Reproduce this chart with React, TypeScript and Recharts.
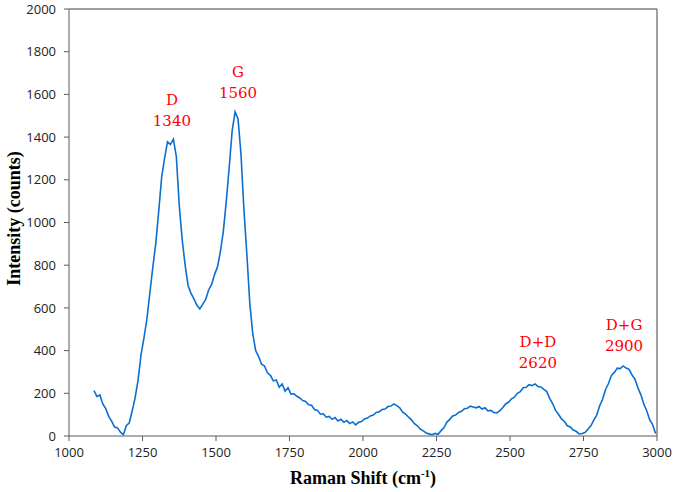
import React from "react"
import { LineChart, Line, XAxis, YAxis, ReferenceLine, ReferenceDot } from "recharts"

// Raman shift (cm-1) of each sampled point
const shift = [
  1085, 1095, 1105, 1115, 1125, 1135, 1145, 1155, 1165, 1175, 1185, 1195, 1205, 1215, 1225, 1235,
  1245, 1255, 1265, 1275, 1285, 1295, 1305, 1315, 1325, 1335, 1345, 1355, 1365, 1375, 1385, 1395,
  1405, 1415, 1425, 1435, 1445, 1455, 1465, 1475, 1485, 1495, 1505, 1515, 1525, 1535, 1545, 1555,
  1565, 1575, 1585, 1595, 1605, 1615, 1625, 1635, 1645, 1655, 1665, 1675, 1685, 1695, 1705, 1715,
  1725, 1735, 1745, 1755, 1765, 1775, 1785, 1795, 1805, 1815, 1825, 1835, 1845, 1855, 1865, 1875,
  1885, 1895, 1905, 1915, 1925, 1935, 1945, 1955, 1965, 1975, 1985, 1995, 2005, 2015, 2025, 2035,
  2045, 2055, 2065, 2075, 2085, 2095, 2105, 2115, 2125, 2135, 2145, 2155, 2165, 2175, 2185, 2195,
  2205, 2215, 2225, 2235, 2245, 2255, 2265, 2275, 2285, 2295, 2305, 2315, 2325, 2335, 2345, 2355,
  2365, 2375, 2385, 2395, 2405, 2415, 2425, 2435, 2445, 2455, 2465, 2475, 2485, 2495, 2505, 2515,
  2525, 2535, 2545, 2555, 2565, 2575, 2585, 2595, 2605, 2615, 2625, 2635, 2645, 2655, 2665, 2675,
  2685, 2695, 2705, 2715, 2725, 2735, 2745, 2755, 2765, 2775, 2785, 2795, 2805, 2815, 2825, 2835,
  2845, 2855, 2865, 2875, 2885, 2895, 2905, 2915, 2925, 2935, 2945, 2955, 2965, 2975, 2985, 2995,
]

// measured counts at each shift
const intensity = [
  212, 185, 192, 150, 128, 92, 70, 42, 38, 18, 6, 48, 62, 118, 180, 262,
  380, 460, 548, 670, 790, 900, 1050, 1210, 1300, 1378, 1365, 1390, 1310, 1080, 920, 800,
  705, 668, 642, 612, 595, 618, 640, 684, 710, 756, 792, 864, 960, 1100, 1260, 1430,
  1518, 1485, 1320, 1060, 850, 620, 480, 400, 372, 336, 328, 296, 284, 258, 262, 228,
  244, 210, 226, 196, 198, 186, 178, 166, 162, 146, 144, 124, 120, 102, 104, 88,
  92, 78, 86, 70, 78, 64, 72, 58, 66, 52, 64, 68, 80, 84, 94, 98,
  110, 114, 124, 126, 138, 140, 150, 142, 132, 112, 102, 88, 76, 58, 48, 32,
  24, 14, 10, 6, 12, 8, 24, 38, 64, 78, 94, 98, 110, 116, 128, 130,
  140, 136, 132, 138, 126, 132, 118, 120, 110, 108, 118, 132, 150, 158, 174, 182,
  200, 208, 226, 228, 240, 236, 244, 232, 230, 218, 208, 176, 152, 120, 102, 80,
  68, 48, 42, 28, 22, 10, 12, 16, 32, 48, 74, 98, 142, 172, 218, 246,
  284, 298, 318, 316, 328, 318, 312, 286, 266, 226, 194, 150, 118, 76, 54, 12,
]

const xTicks = [1000, 1250, 1500, 1750, 2000, 2250, 2500, 2750, 3000]
const yTicks = [0, 200, 400, 600, 800, 1000, 1200, 1400, 1600, 1800, 2000]

// peak annotations
const peakNames = ["D", "G", "D+D", "D+G"]
const peakShifts = [1340, 1560, 2620, 2900]
const peakLabelX = [1350, 1575, 2595, 2888]
const peakLabelY = [1574, 1705, 440, 520]

const data = shift.map((s, i) => ({ shift: s, intensity: intensity[i] }))

const tickStyle = { fontFamily: "'Open Sans', sans-serif", fontSize: 13, fill: "#222" }
const titleFont = "'Liberation Serif', serif"

const PeakLabel = (props: any) => {
  const { viewBox, name, value } = props
  const cx = viewBox.x + (viewBox.width || 0) / 2
  const cy = viewBox.y + (viewBox.height || 0) / 2
  return (
    <text
      x={cx}
      y={cy}
      textAnchor="middle"
      fill="#ff0000"
      fontFamily="'DejaVu Serif', serif"
      fontSize={15}
    >
      <tspan x={cx} dy={5}>{name}</tspan>
      <tspan x={cx} dy={21}>{value}</tspan>
    </text>
  )
}

const XTitle = (props: any) => {
  const { viewBox } = props
  const cx = viewBox.x + viewBox.width / 2
  return (
    <text x={cx} y={484} textAnchor="middle" fontFamily={titleFont} fontWeight="bold" fontSize={18} fill="#000">
      Raman Shift (cm<tspan fontSize={11} dy={-7}>-1</tspan><tspan dy={7}>)</tspan>
    </text>
  )
}

const YTitle = (props: any) => {
  const { viewBox } = props
  const cy = viewBox.y + viewBox.height / 2 - 4
  return (
    <text
      x={14}
      y={cy}
      transform={`rotate(-90, 14, ${cy})`}
      textAnchor="middle"
      dominantBaseline="central"
      fontFamily={titleFont}
      fontWeight="bold"
      fontSize={18}
      fill="#000"
    >
      Intensity (counts)
    </text>
  )
}

export default function App() {
  return (
    <div style={{ position: "absolute", left: 0, top: 0, background: "#fff" }}>
      <LineChart width={675} height={492} data={data} margin={{ top: 9, right: 18, left: 0, bottom: 0 }}>
        <XAxis
          dataKey="shift"
          type="number"
          domain={[1000, 3000]}
          ticks={xTicks}
          height={56}
          tick={tickStyle}
          tickSize={5}
          tickMargin={7}
          stroke="#5a5a5a"
          label={<XTitle />}
        />
        <YAxis
          type="number"
          domain={[0, 2000]}
          ticks={yTicks}
          width={69}
          tick={tickStyle}
          tickSize={5}
          tickMargin={8}
          stroke="#5a5a5a"
          label={<YTitle />}
        />
        <ReferenceLine y={2000} stroke="#7f7f7f" strokeWidth={1.5} />
        <ReferenceLine x={3000} stroke="#7f7f7f" strokeWidth={1.5} />
        <Line
          type="linear"
          dataKey="intensity"
          stroke="#0b6fd0"
          strokeWidth={1.6}
          dot={false}
          isAnimationActive={false}
        />
        {peakNames.map((n, i) => (
          <ReferenceDot
            key={n}
            x={peakLabelX[i]}
            y={peakLabelY[i]}
            r={0}
            stroke="none"
            fill="none"
            label={<PeakLabel name={n} value={peakShifts[i]} />}
          />
        ))}
      </LineChart>
    </div>
  )
}
